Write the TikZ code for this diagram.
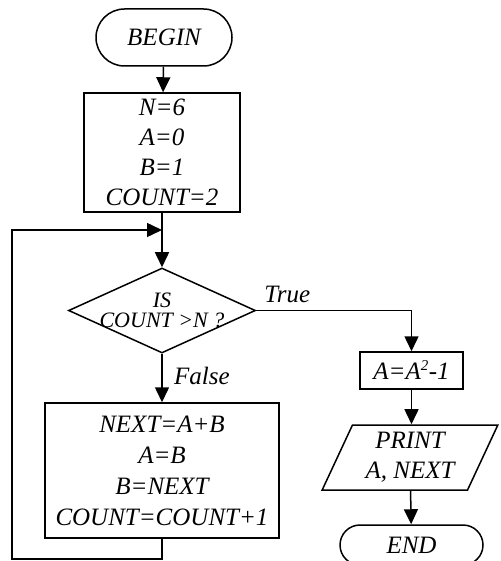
\documentclass[tikz,border=0pt]{standalone}
\usepackage{fontspec}
\setmainfont{Liberation Serif}
\usetikzlibrary{shapes.geometric,shapes.misc,arrows.meta}
\begin{document}
\begin{tikzpicture}[x=1pt,y=-1pt,line width=1.5pt,
  font=\itshape\fontsize{25}{30}\selectfont,
  term/.style={draw,rounded rectangle,inner sep=0pt},
  box/.style={draw,rectangle,align=center,inner sep=2pt},
  test/.style={draw,diamond,aspect=2.2,inner sep=-6pt,align=center,
    font=\itshape\fontsize{22}{20}\selectfont},
  io/.style={draw,trapezium,trapezium left angle=65,trapezium right angle=115,
    trapezium stretches=true,inner sep=0pt,align=center},
  flow/.style={-{Triangle[length=15pt,width=14pt]}}]
  \useasboundingbox (0,0) rectangle (500,561);
  \node[term,minimum width=136pt,minimum height=57pt] (start) at (164,37.5) {BEGIN};
  \node[box,minimum width=156pt,minimum height=119pt] (init) at (162,152.5)
    {N=6\\A=0\\B=1\\COUNT=2};
  \node[test,minimum width=187pt,minimum height=85pt] (test) at (162,310.5)
    {IS\\COUNT >N ?};
  \node[box,minimum width=234pt,minimum height=135pt,font=\itshape\fontsize{25}{31}\selectfont]
    (body) at (162,470.5) {NEXT=A+B\\A=B\\B=NEXT\\COUNT=COUNT+1};
  \node[box,minimum width=103pt,minimum height=37pt,inner sep=1pt] (square) at (411.5,370.5)
    {A=A\textsuperscript{\fontsize{15}{15}\selectfont 2}-1};
  \node[io,minimum width=176pt,minimum height=65pt] (print) at (410,457.5) {PRINT\\A, NEXT};
  \node[term,minimum width=143pt,minimum height=40pt] (stop) at (411.5,545) {END};
  \coordinate (merge) at (162,230);
  \coordinate (corner) at (12,559);
  % main line
  \draw[flow] (start) -- (init);
  \draw[flow] (init) -- (test);
  \draw[flow] (test) -- node[right=8pt,pos=0.45] {False} (body);
  % loop back
  \draw[flow] (body.south) |- (corner) |- (merge);
  % true branch
  \draw[flow] (test.east) -| node[above=4pt,pos=0.1] {True} (square.north);
  \draw[flow] (square) -- (square |- print.north);
  \draw[flow] (print) -- (stop);
\end{tikzpicture}
\end{document}
